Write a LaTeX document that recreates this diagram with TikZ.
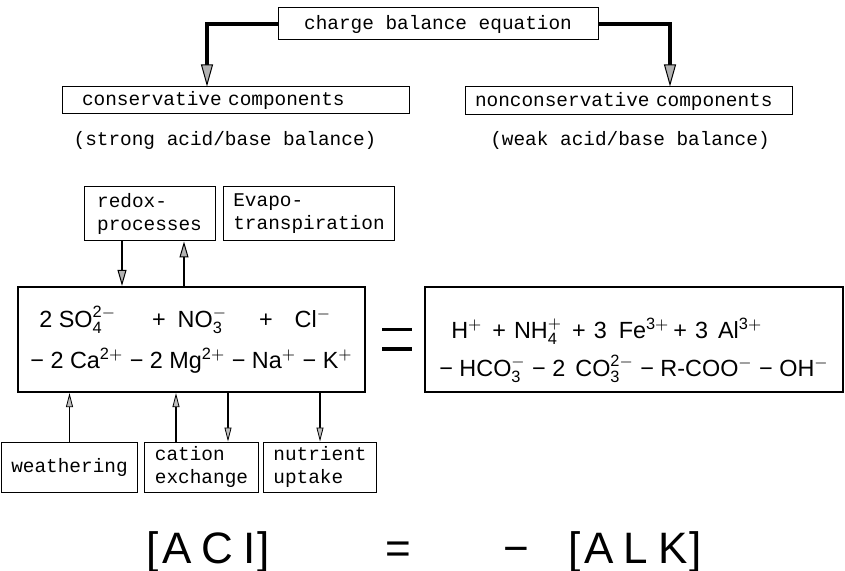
\documentclass[tikz,border=0pt]{standalone}
\usepackage{fontspec}
\setmainfont{Liberation Sans}
\newfontfamily\twfont{Liberation Mono}
\setmathsf{Liberation Sans}
\usetikzlibrary{arrows.meta}
\newcommand\ion[3]{#1$_{\mathsf{#2}}^{\mathsf{#3}}$}
\newcommand\cat[2]{#1$^{\mathsf{#2}}$}
\tikzset{
  tw/.style={font=\twfont\fontsize{9.7}{11.5}\selectfont},
  lbl/.style={tw, draw, line width=0.5pt, inner xsep=5pt, inner ysep=0pt, align=left},
  eqn/.style={draw, line width=1.1pt, inner sep=2pt, align=left, font=\fontsize{11.7}{20.5}\selectfont},
  big/.style={font=\fontsize{22}{22}\selectfont, inner sep=0pt, anchor=base},
  bigarr/.style={line width=1.7pt, -{Triangle[length=11pt,width=6pt,line width=0.5pt,fill=gray!60]}},
  midarr/.style={line width=1.4pt, -{Triangle[length=8pt,width=4.5pt,line width=0.5pt,fill=gray!60]}},
  smallarr/.style={line width=0.8pt, -{Triangle[length=7pt,width=3.5pt,line width=0.4pt,fill=gray!50]}}
}
\begin{document}
\begin{tikzpicture}[x=0.5pt,y=-0.5pt]
  \useasboundingbox (0,0) rectangle (845,571);
  \node[lbl, align=center, minimum width=160pt, minimum height=16pt] (cbe) at (438,24) {charge balance equation};
  \node[lbl, inner xsep=10pt, text width=153.5pt, minimum height=13.5pt] (cons) at (235.5,100.5) {conservative components};
  \node[lbl, text width=153.5pt, minimum height=14pt] (noncons) at (628.5,101) {nonconservative components};
  \node[tw] (capl) at (225,140) {(strong acid/base balance)};
  \node[tw] (capr) at (630,140) {(weak acid/base balance)};
  \draw[bigarr] (cbe.west) -| ([xshift=-14.25pt]cons.north);
  \draw[bigarr] (cbe.east) -| ([xshift=20.75pt]noncons.north);

  \node[lbl, minimum width=65.5pt, minimum height=27pt] (redox) at (149.5,214) {redox-\\processes};
  \node[lbl, minimum width=80pt, minimum height=27pt] (evapo) at (309,214) {Evapo-\\transpiration};

  \node[eqn, minimum width=173.5pt, minimum height=52.5pt] (lhs) at (191.5,339.5)
    {\hspace{4.5pt}2 \ion{SO}{4}{2-}\hspace{18pt}+\hspace{6pt}\ion{NO}{3}{-}\hspace{16pt}+\hspace{11pt}\cat{Cl}{-}\\
     − 2 \cat{Ca}{2+} − 2 \cat{Mg}{2+} − \cat{Na}{+} − \cat{K}{+}};
  \node[inner sep=0pt] (eqa) at (397,339.5) {\vbox{\hrule width 15pt height 1.6pt\vskip 8pt\hrule width 15pt height 1.6pt}};
  \node[eqn, minimum width=209pt, minimum height=52.5pt, font=\fontsize{11.7}{19}\selectfont] (rhs) at (634,339.5)
    {\rule{0pt}{21pt}\hspace{6pt}\cat{H}{+}\hspace{5pt}+\hspace{4pt}\ion{NH}{4}{+}\hspace{5pt}+\hspace{4pt}3\hspace{6pt}\cat{Fe}{3+}\hspace{2pt}+\hspace{4pt}3\hspace{5pt}\cat{Al}{3+}\\
     − \ion{HCO}{3}{-} − 2\hspace{5pt}\ion{CO}{3}{2-} − \cat{R-COO}{-} − \cat{OH}{-}};

  \draw[midarr] ([xshift=-13.75pt]redox.south) -- ([xshift=-13.75pt]redox.south |- lhs.north);
  \draw[midarr] ([xshift=17.25pt]redox.south |- lhs.north) -- ([xshift=17.25pt]redox.south);

  \node[lbl, minimum width=63.5pt, minimum height=25pt] (weath) at (69.5,467) {weathering};
  \node[lbl, minimum width=56.5pt, minimum height=25pt] (cation) at (201.5,467) {cation\\exchange};
  \node[lbl, minimum width=53pt, minimum height=25pt] (nutr) at (320,467) {nutrient\\uptake};
  \draw[smallarr] (weath.north) -- (weath.north |- lhs.south);
  \draw[smallarr] ([xshift=-12.75pt]cation.north) -- ([xshift=-12.75pt]cation.north |- lhs.south);
  \draw[smallarr] ([xshift=13.25pt]cation.north |- lhs.south) -- ([xshift=13.25pt]cation.north);
  \draw[smallarr] (nutr.north |- lhs.south) -- (nutr.north);

  \node[big] (aci) at (208,563) {[\hspace{2pt}A\hspace{5pt}C\hspace{5pt}I\hspace{1pt}]};
  \node[big] (eqb) at (398,563) {=};
  \node[big] (minus) at (516,563) {−};
  \node[big] (alk) at (635,563) {[\hspace{2pt}A\hspace{5pt}L\hspace{5pt}K\hspace{1pt}]};
\end{tikzpicture}
\end{document}
